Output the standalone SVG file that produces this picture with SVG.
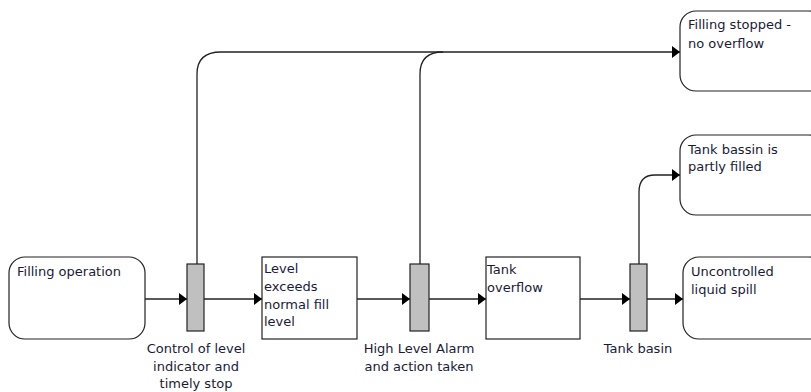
<svg xmlns="http://www.w3.org/2000/svg" width="811" height="392" viewBox="0 0 811 392">
<defs>
<marker id="arr" markerWidth="9" markerHeight="12" refX="8" refY="6" orient="auto" markerUnits="userSpaceOnUse">
<path d="M0,0 L8,6 L0,12 Z" fill="#000"/>
</marker>
<style>
.ev{fill:#fff;stroke:#222;stroke-width:1.2}
.gate{fill:#c0c0c0;stroke:#222;stroke-width:1.2}
.c{fill:none;stroke:#222;stroke-width:1.3}
text{font-family:"DejaVu Sans",Verdana,sans-serif;font-size:13px;fill:#1a1a38}
.m{text-anchor:middle}
</style>
</defs>
<rect width="811" height="392" fill="#fff"/>
<g id="connectors">
<path class="c" d="M145,299 H187" marker-end="url(#arr)"/>
<path class="c" d="M204,299 H262" marker-end="url(#arr)"/>
<path class="c" d="M357,299 H410" marker-end="url(#arr)"/>
<path class="c" d="M429,299 H486" marker-end="url(#arr)"/>
<path class="c" d="M580,299 H630" marker-end="url(#arr)"/>
<path class="c" d="M647,299 H683" marker-end="url(#arr)"/>
<path class="c" d="M197,264 V74 Q197,52 221,52 H680" marker-end="url(#arr)"/>
<path class="c" d="M420,264 V74 Q420,52 443,52"/>
<path class="c" d="M639,264 V192 Q639,175 655,175 H680" marker-end="url(#arr)"/>
</g>
<g id="filling-operation">
<rect class="ev" x="9" y="257" width="136" height="82" rx="16"/>
<text x="17" y="276">Filling operation</text>
</g>
<g id="gate-control">
<rect class="gate" x="187" y="264" width="17" height="67"/>
<text class="m" x="196" y="353">Control of level</text>
<text class="m" x="196" y="371">indicator and</text>
<text class="m" x="196" y="388">timely stop</text>
</g>
<g id="level-exceeds">
<rect class="ev" x="262" y="257" width="95" height="82"/>
<text x="264" y="273">Level</text>
<text x="264" y="291">exceeds</text>
<text x="264" y="309">normal fill</text>
<text x="264" y="326">level</text>
</g>
<g id="gate-alarm">
<rect class="gate" x="410" y="264" width="19" height="67"/>
<text class="m" x="419" y="353">High Level Alarm</text>
<text class="m" x="419" y="371">and action taken</text>
</g>
<g id="tank-overflow">
<rect class="ev" x="486" y="257" width="94" height="82"/>
<text x="487" y="274">Tank</text>
<text x="487" y="292">overflow</text>
</g>
<g id="gate-basin">
<rect class="gate" x="630" y="264" width="17" height="67"/>
<text class="m" x="638" y="353">Tank basin</text>
</g>
<g id="uncontrolled-spill">
<rect class="ev" x="683" y="257" width="142" height="82" rx="16"/>
<text x="691" y="276">Uncontrolled</text>
<text x="691" y="294">liquid spill</text>
</g>
<g id="filling-stopped">
<rect class="ev" x="680" y="11" width="145" height="80" rx="16"/>
<text x="688" y="29">Filling stopped -</text>
<text x="688" y="48">no overflow</text>
</g>
<g id="basin-partly-filled">
<rect class="ev" x="680" y="135" width="145" height="80" rx="16"/>
<text x="688" y="154">Tank bassin is</text>
<text x="688" y="171">partly filled</text>
</g>
</svg>
